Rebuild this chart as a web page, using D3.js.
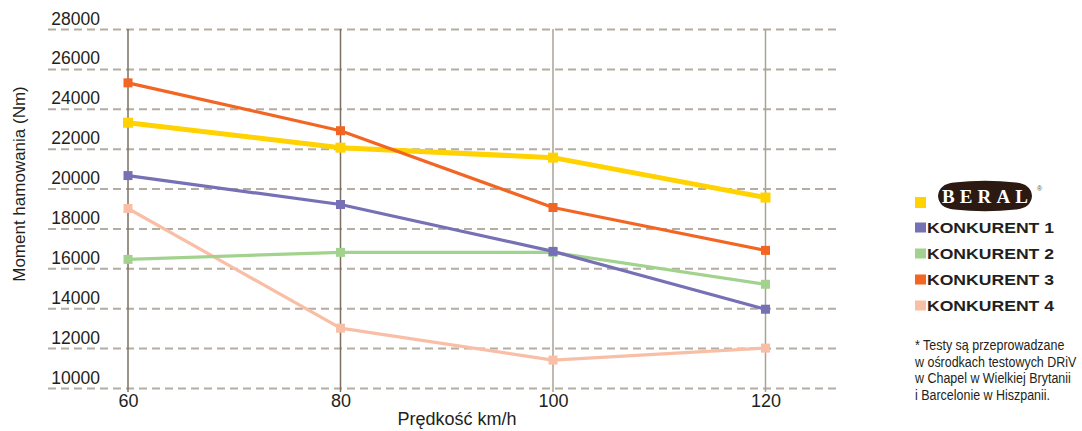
<!DOCTYPE html>
<html>
<head>
<meta charset="utf-8">
<script src="https://cdn.jsdelivr.net/npm/d3@7"></script>
<style>
    body { margin: 0; background: #ffffff; }
    svg { display: block; font-family: "Liberation Sans", Arial, sans-serif; }
</style>
</head>
<body>
<div id="myDataVis"></div>
<script>
// Chart values
const speeds = [60, 80, 100, 120];
const yTicks = [10000, 12000, 14000, 16000, 18000, 20000, 22000, 24000, 26000, 28000];
const beral = [23300, 22050, 21550, 19550];
const konkurent1 = [20650, 19200, 16850, 13950];
const konkurent2 = [16450, 16800, 16800, 15200];
const konkurent3 = [25300, 22900, 19050, 16900];
const konkurent4 = [19000, 13000, 11400, 12000];
const seriesNames = ['BERAL', 'KONKURENT 1', 'KONKURENT 2', 'KONKURENT 3', 'KONKURENT 4'];
const footnote = ['* Testy są przeprowadzane', 'w ośrodkach testowych DRiV',
    'w Chapel w Wielkiej Brytanii', 'i Barcelonie w Hiszpanii.'];
const xLabel = 'Prędkość km/h';
const yLabel = 'Moment hamowania (Nm)';

const colors = ['#ffd200', '#7670b4', '#a2d38e', '#f26522', '#f9bea6'];
const gridColor = '#b3ada2';

document.addEventListener('DOMContentLoaded', () => {
    const width = 1082, height = 431;
    const svg = d3.select('#myDataVis')
        .append('svg')
        .attr('width', width)
        .attr('height', height);

    const xScale = d3.scaleLinear().domain([60, 120]).range([128, 765.5]);
    const yScale = d3.scaleLinear().domain([10000, 28000]).range([388, 29]);
    const gridLeft = 48, gridRight = 836;

    // Horizontal dashed grid lines
    svg.append('g')
        .attr('transform', 'translate(' + gridLeft + ',0)')
        .call(d3.axisRight(yScale).tickValues(yTicks).tickSize(gridRight - gridLeft).tickFormat(''))
        .call(g => g.select('.domain').remove())
        .call(g => g.selectAll('line')
            .attr('stroke', gridColor)
            .attr('stroke-width', 2)
            .attr('stroke-dasharray', '8,5'));

    // Vertical lines at each speed
    svg.append('g')
        .selectAll('line')
        .data(speeds)
        .join('line')
        .attr('x1', d => xScale(d))
        .attr('x2', d => xScale(d))
        .attr('y1', yScale(28000))
        .attr('y2', yScale(10000) + 4)
        .attr('stroke', (d, i) => i < 2 ? '#7b7062' : '#a8a297')
        .attr('stroke-width', 1.5);

    // Y tick labels (sit above their grid line)
    svg.append('g')
        .attr('transform', 'translate(100,0)')
        .call(d3.axisLeft(yScale).tickValues(yTicks).tickSize(0).tickPadding(0).tickFormat(d3.format('d')))
        .call(g => g.select('.domain').remove())
        .call(g => g.selectAll('text')
            .attr('dy', -5)
            .attr('fill', '#231f20')
            .style('font-size', '17.5px')
            .style('font-family', '"Liberation Sans", Arial, sans-serif'));

    // X tick labels
    svg.append('g')
        .attr('transform', 'translate(0,' + 390 + ')')
        .call(d3.axisBottom(xScale).tickValues(speeds).tickSize(0).tickPadding(4).tickFormat(d3.format('d')))
        .call(g => g.select('.domain').remove())
        .call(g => g.selectAll('text')
            .attr('fill', '#231f20')
            .style('font-size', '18px')
            .style('font-family', '"Liberation Sans", Arial, sans-serif'));

    // Axis titles
    svg.append('text')
        .attr('x', 457)
        .attr('y', 425)
        .attr('text-anchor', 'middle')
        .attr('fill', '#231f20')
        .style('font-size', '18px')
        .text(xLabel);

    svg.append('text')
        .attr('transform', 'translate(25,184) rotate(-90)')
        .attr('text-anchor', 'middle')
        .attr('fill', '#231f20')
        .style('font-size', '17px')
        .text(yLabel);

    // Series lines + square markers
    const allSeries = [beral, konkurent1, konkurent2, konkurent3, konkurent4];
    const drawOrder = [4, 2, 1, 0, 3];
    const line = d3.line()
        .x((d, i) => xScale(speeds[i]))
        .y(d => yScale(d));

    drawOrder.forEach(k => {
        const values = allSeries[k];
        const g = svg.append('g');
        g.append('path')
            .datum(values)
            .attr('d', line)
            .attr('fill', 'none')
            .attr('stroke', colors[k])
            .attr('stroke-width', k === 0 ? 5 : 3.2)
            .attr('stroke-linejoin', 'round');
        const s = k === 0 ? 10 : 9;
        g.selectAll('rect')
            .data(values)
            .join('rect')
            .attr('x', (d, i) => xScale(speeds[i]) - s / 2)
            .attr('y', d => yScale(d) - s / 2)
            .attr('width', s)
            .attr('height', s)
            .attr('fill', colors[k]);
    });

    // Legend
    const legend = svg.append('g');
    // BERAL entry
    legend.append('rect')
        .attr('x', 915).attr('y', 197)
        .attr('width', 11).attr('height', 11)
        .attr('fill', colors[0]);
    legend.append('path')
        .attr('d', 'M938,196 Q939,184 954,182.5 Q985,179 1016,182.5 Q1031,184 1032,196 Q1031,208 1016,209.5 Q985,213 954,209.5 Q939,208 938,196 Z')
        .attr('fill', '#2b1912');
    legend.append('text')
        .attr('x', 985).attr('y', 202.5)
        .attr('text-anchor', 'middle')
        .attr('fill', '#ffffff')
        .attr('textLength', 86)
        .attr('lengthAdjust', 'spacing')
        .style('font-family', '"Liberation Serif", "DejaVu Serif", serif')
        .style('font-weight', 'bold')
        .style('font-size', '19px')
        .text(seriesNames[0]);
    legend.append('text')
        .attr('x', 1037).attr('y', 191)
        .attr('fill', '#555')
        .style('font-size', '7px')
        .text('®');

    seriesNames.slice(1).forEach((name, i) => {
        const cy = 227.5 + i * 26;
        legend.append('rect')
            .attr('x', 915).attr('y', cy - 5)
            .attr('width', 11).attr('height', 10)
            .attr('fill', colors[i + 1]);
        legend.append('text')
            .attr('x', 927).attr('y', cy + 5)
            .attr('fill', '#231f20')
            .attr('textLength', 127)
            .attr('lengthAdjust', 'spacingAndGlyphs')
            .style('font-weight', 'bold')
            .style('font-size', '14px')
            .text(name);
    });

    // Footnote: narrow look by squeezing horizontally
    const note = svg.append('g')
        .attr('transform', 'translate(915,0) scale(0.89,1)');
    footnote.forEach((t, i) => {
        note.append('text')
            .attr('x', 0)
            .attr('y', 350 + i * 16.7)
            .attr('fill', '#231f20')
            .style('font-size', '14px')
            .text(t);
    });
});
</script>
</body>
</html>
